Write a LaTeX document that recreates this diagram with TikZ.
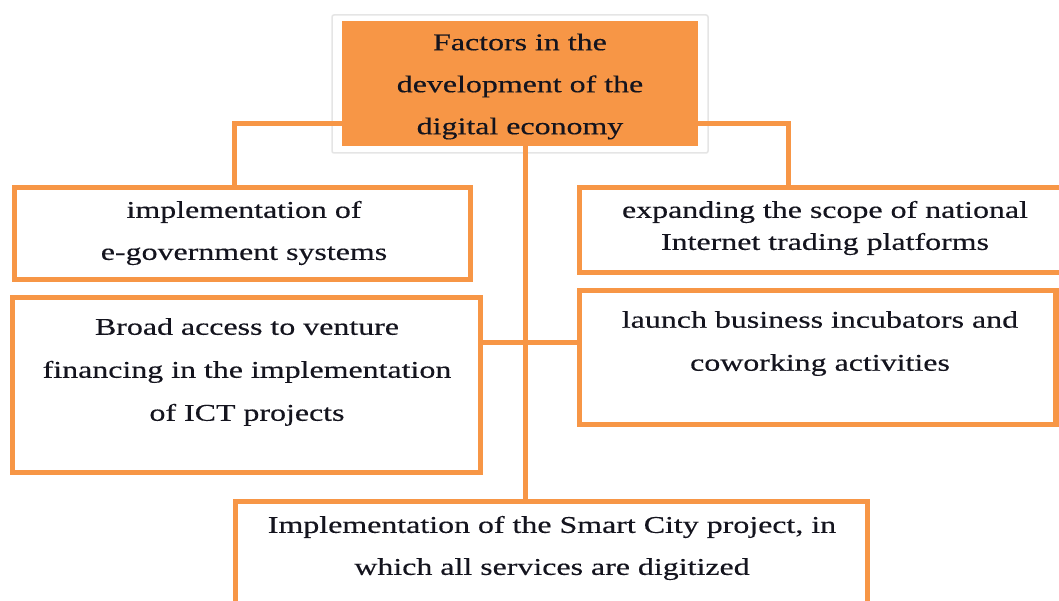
\documentclass[tikz,border=0pt]{standalone}
\usepackage{fontspec}
\setmainfont{Liberation Serif}[FakeStretch=1.33,FakeBold=0.4]
\definecolor{ora}{RGB}{247,150,70}
\definecolor{txt}{RGB}{20,20,30}
\begin{document}
\begin{tikzpicture}[x=1pt,y=-1pt,
  box/.style={draw=ora,line width=5.5pt,fill=white,inner sep=0pt,rectangle},
  conn/.style={draw=ora,line width=5pt},
  lbl/.style={align=center,text=txt,inner sep=0pt},
  f42/.style={font=\fontsize{24}{42}\selectfont},
  f43/.style={font=\fontsize{24}{43}\selectfont},
  f32/.style={font=\fontsize{24}{32}\selectfont}]
\useasboundingbox (0,0) rectangle (1059,601);
\clip (0,0) rectangle (1059,601);
\fill[white] (0,0) rectangle (1059,601);
% top box with white frame
\node[draw=black!10,line width=1.5pt,fill=white,rounded corners=2pt,minimum width=376,minimum height=138,inner sep=0pt] (frame) at (520,84) {};
\node[fill=ora,minimum width=356,minimum height=125,inner sep=0pt] (top) at (520,83.5) {};
% boxes
\node[box,minimum width=456,minimum height=92] (b1) at (242.5,233.5) {};
\node[box,minimum width=495.5,minimum height=85] (b2) at (827.25,230) {};
\node[box,minimum width=468,minimum height=175] (b3) at (246.5,385) {};
\node[box,minimum width=476.5,minimum height=134] (b4) at (817.75,357.5) {};
\node[box,minimum width=632,minimum height=138.5] (b5) at (551.5,570.75) {};
% connectors
\coordinate (hub) at (525,342);
\draw[conn] ([yshift=23pt]top.south west) -| ([xshift=-8.5pt]b1.north);
\draw[conn] ([yshift=23pt]top.south east) -| ([xshift=-39pt]b2.north);
\draw[conn] (top.south -| hub) -- (b5.north -| hub);
\draw[conn] (b3.east |- hub) -- (b4.west |- hub);
% texts
\node[lbl,f42] (t0) at (520,86.5) {Factors in the\\development of the\\digital economy};
\node[lbl,f42] (t1) at (244,233) {implementation of\\e-government systems};
\node[lbl,f32] (t2) at (825,228) {expanding the scope of national\\Internet trading platforms};
\node[lbl,f43] (t3) at (247,372) {Broad access to venture\\financing in the implementation\\of ICT projects};
\node[lbl,f43] (t4) at (820,343.5) {launch business incubators and\\coworking activities};
\node[lbl,f42] (t5) at (552,548) {Implementation of the Smart City project, in\\which all services are digitized};
\end{tikzpicture}
\end{document}
